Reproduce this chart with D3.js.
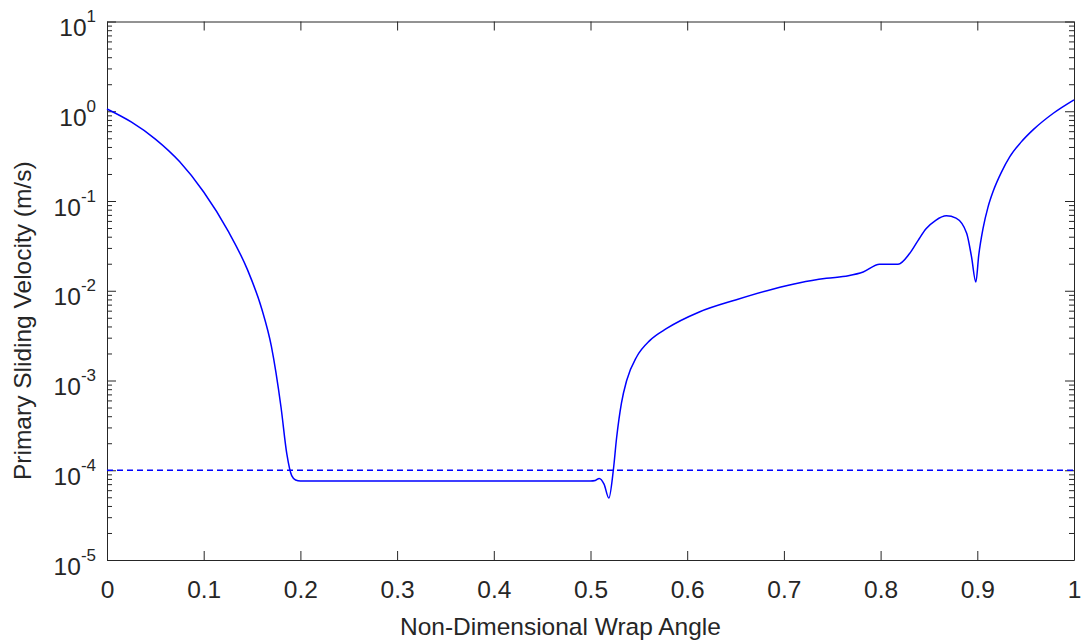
<!DOCTYPE html>
<html>
<head>
<meta charset="utf-8">
<script src="https://cdn.jsdelivr.net/npm/d3@7"></script>
<style>
  body { margin: 0; background: #fff; }
  text { font-family: "Liberation Sans", Arial, sans-serif; fill: #262626; }
  .axis path, .axis line { stroke: #262626; }
</style>
</head>
<body>
<svg id="chart" width="1081" height="642"></svg>
<script>
// wrap angle (non-dimensional) and primary sliding velocity (m/s)
const wrapAngle = [0, 0.025, 0.05, 0.075, 0.1, 0.125, 0.145, 0.16, 0.17, 0.18, 0.186, 0.191, 0.195, 0.2,
    0.22, 0.3, 0.4, 0.5, 0.505, 0.509, 0.514, 0.519, 0.5236, 0.527, 0.532, 0.5374, 0.5478, 0.5615, 0.5788,
    0.6125, 0.65, 0.6873, 0.7166, 0.744, 0.7666, 0.782, 0.799, 0.818, 0.830, 0.839, 0.847, 0.857, 0.868, 0.878, 0.889,
    0.894, 0.8985, 0.9015, 0.906, 0.911, 0.9166, 0.925, 0.9335, 0.945, 0.9576, 0.9786, 1.0]
const slidingVel = [1.06, 0.76, 0.49, 0.275, 0.126, 0.0468, 0.0174, 0.0063, 0.0024, 0.0005, 0.000151, 0.000087, 0.000078, 0.000076,
    0.000076, 0.000076, 0.000076, 0.000076, 0.000077, 0.000081, 0.00007, 0.000049, 0.0001, 0.00023, 0.00056, 0.001, 0.00184, 0.0028, 0.0038,
    0.0058, 0.0079, 0.01035, 0.0123, 0.01375, 0.0147, 0.0162, 0.0197, 0.0197, 0.026, 0.0367, 0.049, 0.061, 0.0684, 0.0644, 0.0437,
    0.024, 0.0125, 0.025, 0.05, 0.085, 0.13, 0.21, 0.31, 0.45, 0.62, 0.95, 1.34]
const threshold = 1e-4
const xTicks = [0, 0.1, 0.2, 0.3, 0.4, 0.5, 0.6, 0.7, 0.8, 0.9, 1]
const yDecades = [-5, -4, -3, -2, -1, 0, 1]

const svg = d3.select("#chart")
const plotL = 107, plotR = 1074, plotT = 21.5, plotB = 560

const x = d3.scaleLinear().domain([0, 1]).range([plotL, plotR])
const y = d3.scaleLog().domain([1e-5, 10]).range([plotB, plotT])

var minorTicks = []
yDecades.slice(0, -1).forEach(function (e) {
    for (let k = 2; k <= 9; k++) minorTicks.push(k * Math.pow(10, e))
})
const majorTicks = yDecades.map(e => Math.pow(10, e))

// x axes (bottom with labels, top mirrored)
svg.append("g")
    .attr("class", "axis")
    .attr("transform", "translate(0," + plotB + ")")
    .call(d3.axisBottom(x).tickValues(xTicks).tickSizeInner(-9).tickSizeOuter(0)
        .tickPadding(21).tickFormat(d3.format("")))
    .call(g => g.selectAll("text").style("font-size", "24.5px").attr("fill", "#262626")
        .style("font-family", "'Liberation Sans', Arial, sans-serif"))

svg.append("g")
    .attr("class", "axis")
    .attr("transform", "translate(0," + plotT + ")")
    .call(d3.axisTop(x).tickValues(xTicks).tickSizeInner(-9).tickSizeOuter(0).tickFormat(""))

// y axes, major + minor, left and right
svg.append("g")
    .attr("class", "axis")
    .attr("transform", "translate(" + plotL + ",0)")
    .call(d3.axisLeft(y).tickValues(majorTicks).tickSizeInner(-9).tickSizeOuter(0).tickFormat(""))
svg.append("g")
    .attr("class", "axis")
    .attr("transform", "translate(" + plotL + ",0)")
    .call(d3.axisLeft(y).tickValues(minorTicks).tickSizeInner(-5).tickSizeOuter(0).tickFormat(""))
    .call(g => g.select(".domain").remove())
svg.append("g")
    .attr("class", "axis")
    .attr("transform", "translate(" + plotR + ",0)")
    .call(d3.axisRight(y).tickValues(majorTicks).tickSizeInner(-9).tickSizeOuter(0).tickFormat(""))
svg.append("g")
    .attr("class", "axis")
    .attr("transform", "translate(" + plotR + ",0)")
    .call(d3.axisRight(y).tickValues(minorTicks).tickSizeInner(-5).tickSizeOuter(0).tickFormat(""))
    .call(g => g.select(".domain").remove())

// y tick labels with superscript exponent
var yLabels = svg.append("g")
    .selectAll("text")
    .data(yDecades)
    .enter().append("text")
    .attr("x", 96)
    .attr("y", d => y(Math.pow(10, d)) + 14.5)
    .attr("text-anchor", "end")
    .style("font-size", "24.5px")
yLabels.append("tspan").text("10")
yLabels.append("tspan")
    .attr("dy", -14)
    .style("font-size", "17px")
    .text(d => d)

// threshold line
svg.append("line")
    .attr("x1", x(0)).attr("x2", x(1))
    .attr("y1", y(threshold)).attr("y2", y(threshold))
    .attr("stroke", "#0000ff")
    .attr("stroke-width", 1.5)
    .attr("stroke-dasharray", "6,4")

// velocity curve
const pts = wrapAngle.map((d, i) => [d, slidingVel[i]])
svg.append("path")
    .datum(pts)
    .attr("fill", "none")
    .attr("stroke", "#0000ff")
    .attr("stroke-width", 1.5)
    .attr("d", d3.line()
        .x(d => x(d[0]))
        .y(d => y(d[1]))
        .curve(d3.curveMonotoneX))

// axis titles
svg.append("text")
    .attr("x", 400)
    .attr("y", 635)
    .style("font-size", "24.5px")
    .text("Non-Dimensional Wrap Angle")

svg.append("text")
    .attr("transform", "translate(31,480) rotate(-90)")
    .style("font-size", "24.5px")
    .text("Primary Sliding Velocity (m/s)")
</script>
</body>
</html>
